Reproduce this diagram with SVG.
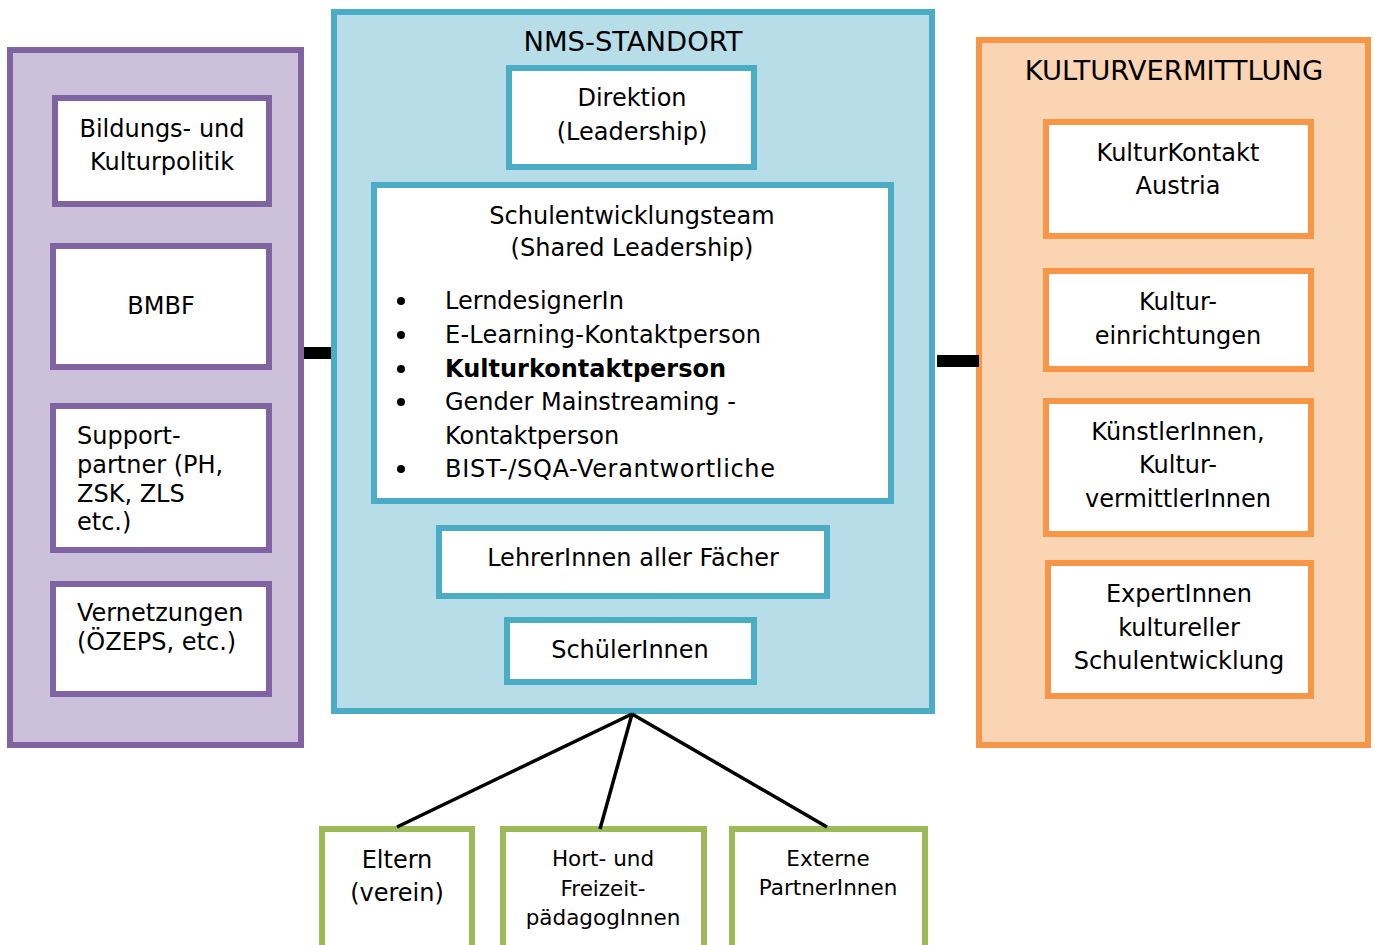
<svg xmlns="http://www.w3.org/2000/svg" width="1375" height="945" viewBox="0 0 1375 945">
<style>
text{font-family:"DejaVu Sans","Verdana",sans-serif;font-size:24px;fill:#000}
.c{text-anchor:middle}
.h{font-size:27.4px}
.s{font-size:21.5px}
.b{font-weight:bold}
.pOuter{fill:#CCC0DA;stroke:#8064A2;stroke-width:6}
.pIn{fill:#fff;stroke:#8064A2;stroke-width:6}
.bOuter{fill:#B7DDE8;stroke:#4BACC6;stroke-width:6}
.bIn{fill:#fff;stroke:#4BACC6;stroke-width:6}
.oOuter{fill:#FBD4B4;stroke:#F79646;stroke-width:6}
.oIn{fill:#fff;stroke:#F79646;stroke-width:6}
.gIn{fill:#fff;stroke:#9BBB59;stroke-width:6}
.ln{stroke:#000;stroke-width:3.5;fill:none}
</style>
<rect width="1375" height="945" fill="#fff"/>

<g id="politik-gruppe">
<rect class="pOuter" x="10" y="50" width="291" height="695"/>
<g id="bildungspolitik">
<rect class="pIn" x="55" y="98" width="214" height="106"/>
<text class="c" x="162" y="137">Bildungs- und</text>
<text class="c" x="162" y="170">Kulturpolitik</text>
</g>
<g id="bmbf">
<rect class="pIn" x="53" y="246" width="216" height="121"/>
<text class="c" x="161" y="314">BMBF</text>
</g>
<g id="supportpartner">
<rect class="pIn" x="53" y="406" width="216" height="144"/>
<text x="77" y="444">Support-</text>
<text x="77" y="473">partner (PH,</text>
<text x="77" y="502">ZSK, ZLS</text>
<text x="77" y="530">etc.)</text>
</g>
<g id="vernetzungen">
<rect class="pIn" x="53" y="584" width="216" height="110"/>
<text x="77" y="621">Vernetzungen</text>
<text x="77" y="650">(ÖZEPS, etc.)</text>
</g>
</g>

<g id="nms-standort">
<rect class="bOuter" x="334" y="12" width="598" height="699"/>
<text class="c h" x="633" y="51">NMS-STANDORT</text>
<g id="direktion">
<rect class="bIn" x="509" y="68" width="245" height="99"/>
<text class="c" x="632" y="106">Direktion</text>
<text class="c" x="632" y="140">(Leadership)</text>
</g>
<g id="schulentwicklungsteam">
<rect class="bIn" x="374" y="185" width="517" height="316"/>
<text class="c" x="632" y="224">Schulentwicklungsteam</text>
<text class="c" x="632" y="256">(Shared Leadership)</text>
<circle cx="401" cy="301" r="4"/>
<circle cx="401" cy="335" r="4"/>
<circle cx="401" cy="369" r="4"/>
<circle cx="401" cy="402" r="4"/>
<circle cx="401" cy="469" r="4"/>
<text x="445" y="309">LerndesignerIn</text>
<text x="445" y="343" textLength="316">E-Learning-Kontaktperson</text>
<text class="b" x="445" y="377">Kulturkontaktperson</text>
<text x="445" y="410">Gender Mainstreaming -</text>
<text x="445" y="444">Kontaktperson</text>
<text x="445" y="477" textLength="330">BIST-/SQA-Verantwortliche</text>
</g>
<g id="lehrerinnen">
<rect class="bIn" x="439" y="528" width="388" height="68"/>
<text class="c" x="633" y="566">LehrerInnen aller Fächer</text>
</g>
<g id="schuelerinnen">
<rect class="bIn" x="507" y="620" width="247" height="62"/>
<text class="c" x="630" y="658">SchülerInnen</text>
</g>
</g>

<g id="kulturvermittlung">
<rect class="oOuter" x="979" y="40" width="389" height="705"/>
<text class="c h" x="1174" y="80">KULTURVERMITTLUNG</text>
<g id="kulturkontakt">
<rect class="oIn" x="1046" y="122" width="265" height="114"/>
<text class="c" x="1178" y="161">KulturKontakt</text>
<text class="c" x="1178" y="194">Austria</text>
</g>
<g id="kultureinrichtungen">
<rect class="oIn" x="1046" y="271" width="265" height="98"/>
<text class="c" x="1178" y="310">Kultur-</text>
<text class="c" x="1178" y="344">einrichtungen</text>
</g>
<g id="kuenstlerinnen">
<rect class="oIn" x="1046" y="401" width="265" height="133"/>
<text class="c" x="1178" y="440">KünstlerInnen,</text>
<text class="c" x="1178" y="473">Kultur-</text>
<text class="c" x="1178" y="507">vermittlerInnen</text>
</g>
<g id="expertinnen">
<rect class="oIn" x="1048" y="563" width="263" height="133"/>
<text class="c" x="1179" y="602">ExpertInnen</text>
<text class="c" x="1179" y="636">kultureller</text>
<text class="c" x="1179" y="669">Schulentwicklung</text>
</g>
</g>

<g id="eltern">
<rect class="gIn" x="322" y="829" width="150" height="140"/>
<text class="c" x="397" y="868">Eltern</text>
<text class="c" x="397" y="901">(verein)</text>
</g>
<g id="hort">
<rect class="gIn" x="503" y="829" width="201" height="140"/>
<text class="c s" x="603" y="866">Hort- und</text>
<text class="c s" x="603" y="896">Freizeit-</text>
<text class="c s" x="603" y="925">pädagogInnen</text>
</g>
<g id="externe">
<rect class="gIn" x="732" y="829" width="193" height="140"/>
<text class="c s" x="828" y="866">Externe</text>
<text class="c s" x="828" y="895">PartnerInnen</text>
</g>

<g id="connectors">
<rect x="304" y="347" width="27" height="12" fill="#000"/>
<rect x="937" y="355" width="42" height="12" fill="#000"/>
<line class="ln" x1="632" y1="714" x2="397" y2="827"/>
<line class="ln" x1="632" y1="714" x2="600" y2="829"/>
<line class="ln" x1="632" y1="714" x2="827" y2="827"/>
</g>
</svg>
